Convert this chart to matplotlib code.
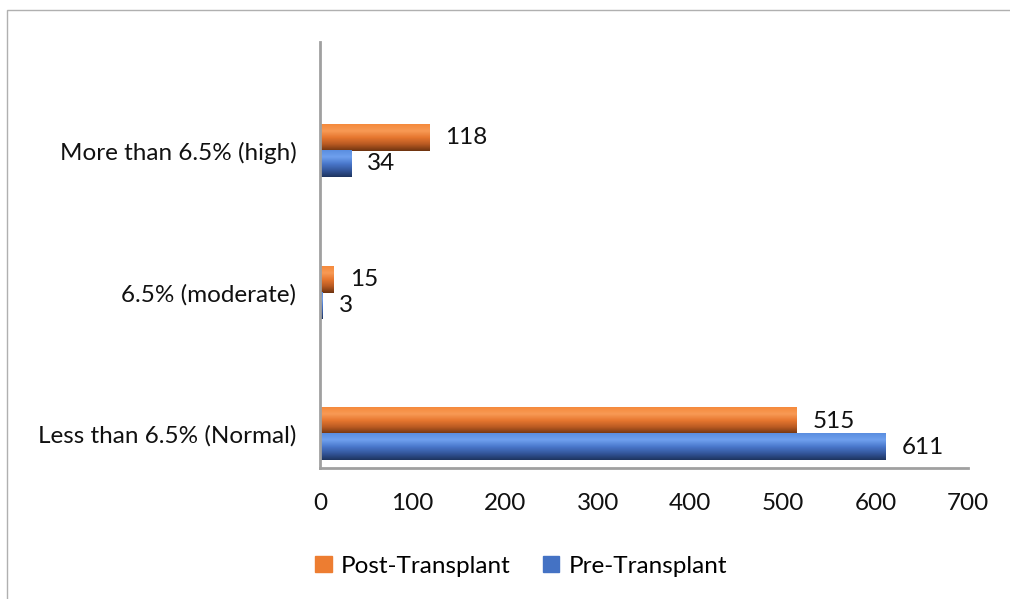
import numpy as np
import matplotlib.pyplot as plt
from matplotlib.colors import LinearSegmentedColormap
from matplotlib.patches import Rectangle, Patch

categories = ['Less than 6.5% (Normal)', '6.5% (moderate)', 'More than 6.5% (high)']
post_transplant = [515, 15, 118]
pre_transplant = [611, 3, 34]
xticks = [0, 100, 200, 300, 400, 500, 600, 700]

plt.rcParams['font.family'] = ['Lato', 'DejaVu Sans']

orange_cmap = LinearSegmentedColormap.from_list(
    'org', ['#f58a3c', '#f89a55', '#e6762f', '#b85a22', '#6e3410'])
blue_cmap = LinearSegmentedColormap.from_list(
    'blu', ['#5b8ee0', '#6fa0ee', '#4a78cc', '#34579c', '#1e3560'])

fig = plt.figure(figsize=(10.10, 5.99), dpi=100)
ax = fig.add_axes([0.3168, 0.2187, 0.6416, 0.7112])

# outer chart frame (top and left edges visible)
fig.add_artist(Rectangle((7 / 1010, -0.2), 1.2, (599 - 10) / 599 + 0.2,
                         transform=fig.transFigure, fill=False,
                         edgecolor='#b0b0b0', lw=1, clip_on=False))

y = np.arange(len(categories))
h = 0.184
grad = np.linspace(0, 1, 64).reshape(-1, 1)


def grad_bars(vals, offset, cmap):
    for yi, v in zip(y, vals):
        y0, y1 = yi + offset - h / 2, yi + offset + h / 2
        ax.imshow(grad, cmap=cmap, aspect='auto', extent=(0, v, y0, y1),
                  origin='upper', zorder=2)
        ax.text(v + 17, yi + offset, str(v), va='center', ha='left',
                fontsize=17.5, color='#111111')


grad_bars(post_transplant, h / 2, orange_cmap)
grad_bars(pre_transplant, -h / 2, blue_cmap)

ax.set_xlim(0, 700)
ax.set_ylim(-0.24, 2.77)
ax.set_xticks(xticks)
ax.set_yticks(y)
ax.set_yticklabels(categories)
ax.tick_params(axis='both', length=0, labelsize=17.5, colors='#111111')
ax.tick_params(axis='x', pad=18)
ax.tick_params(axis='y', pad=17)
for s in ['top', 'right']:
    ax.spines[s].set_visible(False)
for s in ['left', 'bottom']:
    ax.spines[s].set_color('#a0a0a0')
    ax.spines[s].set_linewidth(2)

handles = [Patch(color='#ed7d31', label='Post-Transplant'),
           Patch(color='#4472c4', label='Pre-Transplant')]
fig.legend(handles=handles, loc='center', bbox_to_anchor=(0.516, 0.055),
           ncol=2, frameon=False, fontsize=17.5, handlelength=0.66,
           handleheight=0.66, handletextpad=0.4, columnspacing=1.3)

fig.savefig('out.png', dpi=100, facecolor='white')
